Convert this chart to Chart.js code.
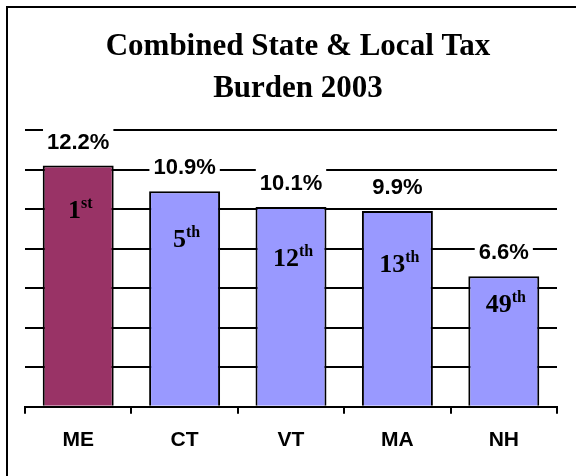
<!DOCTYPE html>
<html>
<head>
<meta charset="utf-8">
<script src="https://cdn.jsdelivr.net/npm/chart.js@4"></script>
<style>
  html, body { margin: 0; padding: 0; background: #fff; }
  #chart { display: block; }
</style>
</head>
<body>
<canvas id="chart" width="576" height="476"></canvas>
<script>
const titleLines = ['Combined State & Local Tax', 'Burden 2003'];
const states = ['ME', 'CT', 'VT', 'MA', 'NH'];
const taxBurden = [12.2, 10.9, 10.1, 9.9, 6.6];
const rankNumbers = ['1', '5', '12', '13', '49'];
const rankSuffixes = ['st', 'th', 'th', 'th', 'th'];
const yMax = 14;
const yStep = 2;

const MAROON = '#993366';
const PERIWINKLE = '#9999ff';
const SANS = '"Liberation Sans", Arial, sans-serif';
const SERIF = '"Liberation Serif", "Times New Roman", serif';

// rank text sits this many px below each bar top (hand placed in the original)
const rankOffsets = [52, 56, 59, 61, 36];

const framePlugin = {
  id: 'frame',
  beforeDraw(chart) {
    const { ctx, width, height } = chart;
    ctx.save();
    ctx.fillStyle = '#fff';
    ctx.fillRect(0, 0, width, height);
    ctx.strokeStyle = '#000';
    ctx.lineWidth = 2;
    ctx.beginPath();
    ctx.moveTo(7, height);
    ctx.lineTo(7, 7);
    ctx.lineTo(width, 7);
    ctx.stroke();

    ctx.fillStyle = '#000';
    ctx.font = 'bold 31px ' + SERIF;
    ctx.textAlign = 'center';
    ctx.textBaseline = 'alphabetic';
    ctx.fillText(titleLines[0], 298, 55);
    ctx.fillText(titleLines[1], 298, 97);
    ctx.restore();
  },
};

const labelPlugin = {
  id: 'barLabels',
  afterDatasetsDraw(chart) {
    const { ctx } = chart;
    const meta = chart.getDatasetMeta(0);
    meta.data.forEach((bar, i) => {
      ctx.save();
      ctx.textBaseline = 'alphabetic';

      // value label on a white box
      ctx.font = 'bold 22px ' + SANS;
      ctx.textAlign = 'center';
      const text = taxBurden[i].toFixed(1) + '%';
      const w = ctx.measureText(text).width;
      const base = bar.y - 17;
      ctx.fillStyle = '#fff';
      ctx.fillRect(bar.x - w / 2 - 4, base - 22, w + 8, 28);
      ctx.fillStyle = '#000';
      ctx.fillText(text, bar.x, base);

      // rank with superscript
      ctx.textAlign = 'left';
      ctx.font = 'bold 26px ' + SERIF;
      const mainW = ctx.measureText(rankNumbers[i]).width;
      ctx.font = 'bold 16px ' + SERIF;
      const supW = ctx.measureText(rankSuffixes[i]).width;
      const x0 = bar.x - (mainW + supW) / 2 + 2;
      const rBase = bar.y + rankOffsets[i];
      ctx.font = 'bold 26px ' + SERIF;
      ctx.fillText(rankNumbers[i], x0, rBase);
      ctx.font = 'bold 16px ' + SERIF;
      ctx.fillText(rankSuffixes[i], x0 + mainW, rBase - 10);
      ctx.restore();
    });
  },
};

const config = {
  type: 'bar',
  data: {
    labels: states,
    datasets: [
      {
        data: taxBurden,
        backgroundColor: (c) => (c.dataIndex === 0 ? MAROON : PERIWINKLE),
        borderColor: '#000',
        borderWidth: 2,
        categoryPercentage: 1,
        barPercentage: 0.667,
      },
    ],
  },
  options: {
    responsive: false,
    devicePixelRatio: 1,
    animation: false,
    layout: {
      padding: { top: 130, left: 25, right: 19, bottom: 9 },
    },
    scales: {
      x: {
        grid: {
          offset: true,
          drawOnChartArea: false,
          drawTicks: true,
          tickLength: 7,
          color: '#000',
          lineWidth: 2,
        },
        border: { display: true, color: '#000', width: 2 },
        ticks: {
          color: '#000',
          padding: 14,
          font: { family: SANS, size: 21, weight: 'bold' },
        },
      },
      y: {
        min: 0,
        max: yMax,
        ticks: { display: false, stepSize: yStep },
        grid: { color: '#000', lineWidth: 2, drawTicks: false },
        border: { display: false },
      },
    },
    plugins: {
      legend: { display: false },
      title: { display: false },
      tooltip: { enabled: false },
    },
  },
  plugins: [framePlugin, labelPlugin],
};

new Chart(document.getElementById('chart'), config);
</script>
</body>
</html>
